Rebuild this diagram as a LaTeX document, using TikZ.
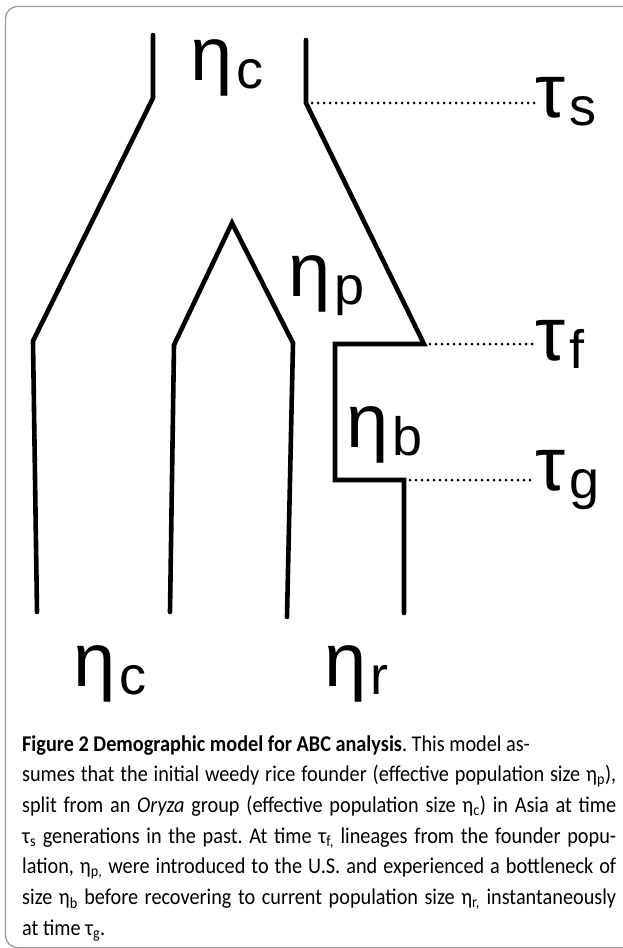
\documentclass[tikz,border=0pt]{standalone}
\usepackage{fontspec}
\setmainfont[FakeStretch=0.9]{Carlito}
\newfontfamily\labelfont{Liberation Sans}
\usepackage{tikz}
\usetikzlibrary{calc}
\definecolor{Ink}{HTML}{000000}
\definecolor{Frame}{HTML}{9C9C9C}
\newcommand\popsym[2]{\raisebox{8pt}{\fontsize{76}{76}\selectfont #1}\kern4pt{\fontsize{54}{54}\selectfont #2}}
\frenchspacing
\tikzset{
  lineage/.style={draw=Ink,line width=4.6pt,line cap=round,line join=miter},
  guide/.style={draw=Ink,line width=3pt,line cap=round,dash pattern=on 0pt off 6pt},
  poplbl/.style={anchor=base west,inner sep=0pt,text=Ink,font=\labelfont},
  frame/.style={draw=Frame,line width=1.3pt,rounded corners=12pt},
  captxt/.style={anchor=base west,inner sep=0pt,text width=594pt,align=justify,text=Ink,
    font=\fontsize{22.5}{30.7}\selectfont}
}

\begin{document}
\begin{tikzpicture}[x=1pt,y=-1pt]
\path[use as bounding box] (0,0) rectangle (623,948);
\draw[frame] (624,6.5) -- (5.5,6.5) -- (5.5,947.5) -- (624,947.5);

\coordinate (oryzaL) at (153,35);
\coordinate (splitL) at (153,98);
\coordinate (leftfoot) at (33,341);
\coordinate (leftend) at (37,612);
\coordinate (oryzaR) at (306,40);
\coordinate (splitR) at (306,103);
\coordinate (found) at (424,344);
\coordinate (neckTop) at (335,344);
\coordinate (neckLow) at (335,480);
\coordinate (recover) at (404,480);
\coordinate (rend) at (404,613);
\coordinate (apex) at (232,223);
\coordinate (innerL) at (174,345);
\coordinate (innerLend) at (170,612);
\coordinate (innerR) at (293,343);
\coordinate (innerRend) at (287,617);

\draw[lineage] (oryzaL) -- (splitL) -- (leftfoot) -- (leftend);
\draw[lineage] (oryzaR) -- (splitR) -- (found) -- (neckTop) -- (neckLow) -- (recover) -- (rend);
\draw[lineage] (innerLend) -- (innerL) -- (apex) -- (innerR) -- (innerRend);

\node[poplbl] (etaCtop) at (190,88) {\popsym{η}{c}};
\node[poplbl] (etaP) at (288,304) {\popsym{η}{p}};
\node[poplbl] (etaB) at (346,455) {\popsym{η}{b}};
\node[poplbl] (etaCbot) at (73,694) {\popsym{η}{c}};
\node[poplbl] (etaR) at (324,694) {\popsym{η}{r}};

\node[poplbl] (tauS) at (535,125) {\popsym{τ}{s}};
\node[poplbl] (tauF) at (535,368) {\popsym{τ}{f}};
\node[poplbl] (tauG) at (535,498) {\popsym{τ}{g}};

\draw[guide] (splitR) -- (splitR -| tauS.west);
\draw[guide] (found) -- (found -| tauF.west);
\draw[guide] (recover) -- (recover -| tauG.west);

\node[captxt] (caption) at (22,751) {\textbf{Figure 2 Demographic model for ABC analysis}. This model as-\newline
sumes that the initial weedy rice founder (effective population size η\textsubscript{p}),\linebreak
split from an \textit{Oryza} group (effective population size η\textsubscript{c}) in Asia at time\linebreak
τ\textsubscript{s} generations in the past. At time τ\textsubscript{f,} lineages from the founder popu-\linebreak
lation, η\textsubscript{p,} were introduced to the U.S. and experienced a bottleneck of\linebreak
size η\textsubscript{b} before recovering to current population size η\textsubscript{r,} instantaneously\linebreak
at time τ\textsubscript{g}.};
\end{tikzpicture}
\end{document}
